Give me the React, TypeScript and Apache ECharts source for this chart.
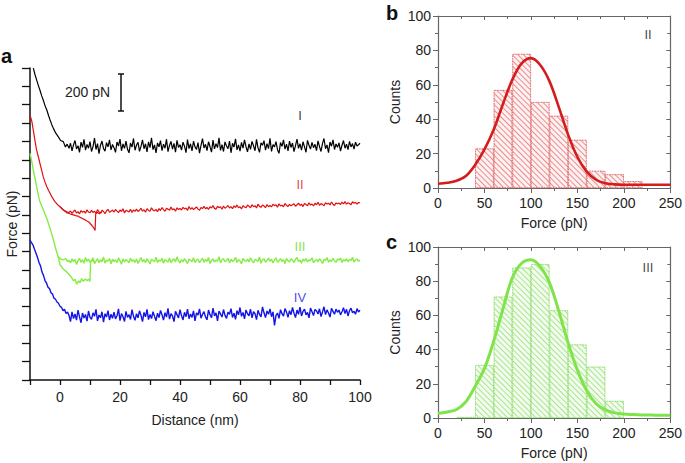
import React, { useEffect, useRef } from "react";
import * as echarts from "echarts";

// ---------- Panel a: force-distance traces (distance nm, force pN offset) ----------
const baselineStart = 3;
const baselineStep = 0.5;

const blackRamp = [[-8.9, 1699], [-8.3, 1662], [-7.8, 1635], [-7.2, 1604], [-6.7, 1580], [-6.1, 1548], [-5.6, 1526], [-5.0, 1495], [-4.4, 1471], [-3.8, 1440], [-3.3, 1417], [-2.7, 1390], [-2.2, 1371], [-1.4, 1345], [-0.6, 1326], [0.2, 1305], [1.1, 1299], [1.8, 1270], [2.4, 1285]];
const blackBaseline = [
  1262,1290,1248,1281,1305,1259,1277,1240,1296,1268,1311,1252,1284,1263,1299,
  1245,1272,1318,1256,1288,1233,1279,1302,1261,1247,1293,1270,1308,1254,1283,
  1266,1240,1297,1275,1313,1249,1286,1262,1301,1257,1238,1291,1269,1316,1252,
  1280,1295,1246,1273,1309,1260,1287,1243,1298,1266,1320,1255,1281,1237,1292,
  1271,1304,1250,1285,1263,1312,1244,1278,1300,1258,1289,1241,1306,1267,1282,
  1253,1296,1274,1239,1310,1261,1287,1248,1301,1270,1256,1293,1236,1279,1315,
  1264,1284,1250,1298,1272,1242,1307,1259,1288,1266,1319,1251,1283,1245,1297,
  1275,1260,1302,1238,1290,1269,1314,1254,1281,1247,1295,1263,1308,1271,1243,
  1286,1257,1300,1276,1249,1311,1265,1240,1292,1279,1304,1252,1288,1261,1317,
  1246,1283,1270,1299,1255,1235,1294,1273,1309,1258,1285,1248,1302,1267,1291,
  1244,1277,1313,1262,1287,1253,1298,1270,1241,1306,1279,1258,1295,1266,1284,
  1250,1303,1272,1245,1289,1316,1260,1281,1239,1297,1274,1308,1256,1286,1268,
  1292,1247,1279,1305,1263,1285,1255,1300,1270,1288,1258,1296,1275,1282,1290,
];

const redRamp = [[-10, 1444], [-9.4, 1410], [-8.9, 1362], [-8.3, 1300], [-7.8, 1253], [-7.2, 1215], [-6.7, 1181], [-6.1, 1142], [-5.6, 1108], [-5.0, 1078], [-4.4, 1053], [-3.8, 1033], [-3.3, 1017], [-2.5, 992], [-1.7, 972], [-0.8, 955], [0, 944], [1.1, 928], [2.2, 917]];
const redRetract = [[0, 944], [1.1, 926], [2.2, 912], [3.2, 906], [4.2, 901], [5.2, 896], [6.0, 893], [6.7, 886], [7.5, 880], [8.2, 874], [9.0, 866], [9.6, 861], [10.2, 850], [10.8, 838], [11.3, 828], [11.7, 815], [11.9, 905], [12.5, 913], [13.2, 906], [14.0, 916]];
const redBaseline = [
  912,921,908,918,926,910,917,905,923,914,920,909,927,915,911,
  924,913,920,907,928,916,911,925,918,906,922,930,914,919,926,
  915,929,920,912,926,918,933,910,924,921,916,930,913,927,919,
  931,918,925,936,920,928,914,933,924,919,938,926,921,930,917,
  934,923,940,928,919,936,931,925,942,927,933,920,938,929,935,
  926,941,932,937,924,945,930,939,928,936,943,931,925,940,934,
  946,933,940,929,944,937,950,935,931,947,939,944,930,948,936,
  942,951,937,945,933,949,940,954,938,944,932,950,943,939,953,
  947,938,955,944,950,937,958,946,941,953,948,939,956,944,951,
  943,958,950,954,941,960,948,952,944,962,951,946,957,949,955,
  960,947,955,964,951,958,945,962,956,950,966,953,959,948,963,
  955,968,952,961,957,949,966,959,963,954,970,958,951,965,960,
  964,956,969,960,972,958,966,962,955,971,963,968,959,967,965,
];

const greenRamp = [[-10, 1235], [-9.4, 1190], [-8.9, 1144], [-8.3, 1098], [-7.8, 1053], [-7.3, 1015], [-6.9, 981], [-6.1, 948], [-5.3, 917], [-4.4, 880], [-3.6, 840], [-2.8, 799], [-2.0, 752], [-1.3, 708], [-0.6, 672], [0.2, 660], [1.1, 654], [2.0, 662], [2.5, 645]];
const greenRetract = [[-0.6, 672], [0, 628], [1, 606], [2, 592], [3, 575], [3.8, 560], [4.5, 540], [5, 549], [5.6, 522], [6.2, 541], [6.7, 530], [7.2, 553], [7.8, 538], [8.4, 551], [9, 541], [9.5, 549], [10, 537], [10.2, 645], [11, 653], [11.8, 640]];
const greenBaseline = [
  652,638,660,645,657,630,649,663,641,655,636,668,646,659,642,
  651,665,634,648,661,639,656,644,670,637,653,647,662,633,658,
  645,654,640,666,649,631,660,643,657,650,638,664,646,655,641,
  659,635,652,667,644,656,639,661,648,632,658,651,645,669,640,
  654,647,663,636,657,650,642,665,638,653,660,644,671,649,637,
  656,643,662,648,634,659,651,645,666,640,655,658,639,652,664,
  641,657,646,668,635,650,660,643,654,647,672,638,655,661,644,
  650,663,637,658,645,652,669,640,656,648,633,662,651,646,659,
  643,666,649,639,657,653,645,670,636,655,660,642,651,664,647,
  658,638,654,665,641,650,661,646,656,634,663,649,644,660,652,
  640,657,668,645,653,636,659,648,662,643,655,651,666,639,650,
  657,644,661,649,635,658,652,667,642,654,646,663,650,641,659,
  653,665,640,656,648,661,644,658,651,669,643,655,660,647,654,
];

const blueRamp = [[-10, 763], [-9.5, 748], [-9, 735], [-8.5, 712], [-8, 690], [-7.5, 668], [-7, 640], [-6.5, 622], [-6, 588], [-5.5, 570], [-5, 542], [-4.5, 528], [-4, 505], [-3.5, 498], [-3, 475], [-2.5, 468], [-2, 446], [-1.5, 440], [-1, 425], [-0.5, 418], [0, 402], [0.5, 396], [1, 378], [1.5, 385], [2, 362], [2.5, 370]];
const blueBaseline = [
  352,318,371,335,360,326,381,344,312,365,338,357,321,376,341,
  330,366,347,385,322,354,339,372,315,361,343,378,327,358,336,
  369,333,350,388,324,362,345,319,374,341,356,330,383,347,325,
  361,339,377,352,318,368,344,385,329,357,335,372,347,323,364,
  340,379,355,326,367,343,390,332,361,349,318,374,356,338,383,
  351,327,369,345,386,334,360,341,377,322,366,353,388,337,358,
  372,344,328,381,356,339,392,349,366,322,375,360,343,384,352,
  336,370,358,389,341,364,330,378,355,395,347,368,333,382,361,
  350,386,339,372,362,329,380,357,344,398,366,340,376,358,387,
  345,371,298,352,365,336,383,361,348,389,370,342,378,356,395,
  364,340,381,358,397,349,374,386,355,368,339,392,372,351,384,
  377,360,388,346,371,399,356,382,365,343,390,374,358,386,369,
  381,355,372,394,362,385,349,378,391,366,374,358,389,371,380,
];

const traceLabels = ["I", "II", "III", "IV"];
const traceLabelPos = [[80, 1440], [80, 1063], [80, 726], [80, 447]];
const traceColors = ["#000000", "#e01010", "#86ec44", "#1414e6"];
const traceLabelColors = ["#000000", "#e01010", "#66dd22", "#1414e6"];

// ---------- Panels b & c: rupture force histograms ----------
const binCentersII = [50, 70, 90, 110, 130, 150, 170, 190, 210];
const countsII = [23, 57, 78, 50, 42, 28, 10, 8, 4];
const binCentersIII = [30, 50, 70, 90, 110, 130, 150, 170, 190];
const countsIII = [0.6, 31, 71, 88, 90, 63, 43, 30, 10];

const fitForce = [0, 10, 20, 30, 40, 50, 60, 70, 80, 90, 100, 110, 120, 130, 140, 150, 160, 170, 180, 190, 200, 210, 220, 230, 240, 250];
const fitII = [2.5, 3, 4.2, 7, 13.5, 22.5, 34, 49, 63, 72.5, 75.5, 71.5, 62, 47, 31, 18, 9.5, 4.8, 2.8, 2.1, 1.9, 1.9, 1.9, 1.9, 1.9, 1.9];
const fitIII = [2.7, 3.5, 5, 9.5, 18.5, 29, 45, 64, 82, 90.5, 92.5, 88.5, 79, 62.5, 44, 28, 16, 8.5, 4.8, 3, 2.3, 2, 1.8, 1.7, 1.6, 1.6];

const FONT = "Liberation Sans, Arial, Helvetica, sans-serif";

function withGrid(values: number[]) {
  return values.map((v, i) => [baselineStart + i * baselineStep, v]);
}

function histAxes(gi: number, xName: string) {
  const axisCol = "#666";
  const lbl = { color: "#222", fontSize: 14, fontFamily: FONT };
  const xs = [
    {
      type: "value", gridIndex: gi, min: 0, max: 250, interval: 50,
      axisLine: { onZero: false, lineStyle: { color: axisCol, width: 1.2 } },
      axisTick: { length: 5, lineStyle: { color: axisCol } },
      minorTick: { show: true, splitNumber: 2, length: 3, lineStyle: { color: axisCol } },
      axisLabel: { ...lbl, margin: 8 }, splitLine: { show: false },
      name: xName, nameLocation: "middle", nameGap: 28,
      nameTextStyle: { ...lbl },
    },
    {
      type: "value", gridIndex: gi, position: "top", min: 0, max: 250, interval: 50,
      axisLine: { onZero: false, lineStyle: { color: axisCol, width: 1.2 } },
      axisTick: { inside: true, length: 4, lineStyle: { color: axisCol } },
      minorTick: { show: true, splitNumber: 2, length: 3, lineStyle: { color: axisCol } },
      axisLabel: { show: false }, splitLine: { show: false },
    },
  ];
  const ys = [
    {
      type: "value", gridIndex: gi, min: 0, max: 100, interval: 20,
      axisLine: { show: true, onZero: false, lineStyle: { color: axisCol, width: 1.2 } },
      axisTick: { show: true, length: 5, lineStyle: { color: axisCol } },
      minorTick: { show: true, splitNumber: 2, length: 3, lineStyle: { color: axisCol } },
      axisLabel: { ...lbl, margin: 7 }, splitLine: { show: false },
      name: "Counts", nameLocation: "middle", nameGap: 36,
      nameTextStyle: { ...lbl },
    },
    {
      type: "value", gridIndex: gi, position: "right", min: 0, max: 100, interval: 20,
      axisLine: { show: true, onZero: false, lineStyle: { color: axisCol, width: 1.2 } },
      axisTick: { show: true, inside: true, length: 4, lineStyle: { color: axisCol } },
      minorTick: { show: true, splitNumber: 2, length: 3, lineStyle: { color: axisCol } },
      axisLabel: { show: false }, splitLine: { show: false },
    },
  ];
  return { xs, ys };
}

function textSeries(xi: number, yi: number, pos: number[], text: string, color: string) {
  return {
    type: "scatter", xAxisIndex: xi, yAxisIndex: yi, symbol: "circle", symbolSize: 1,
    silent: true,
    itemStyle: { color: "rgba(255,255,255,0)" },
    label: {
      show: true, position: "inside", formatter: text,
      color, fontSize: 13, fontFamily: FONT,
      textBorderColor: "transparent", textBorderWidth: 0,
    },
    data: [pos],
    z: 6,
  };
}

export default function App() {
  const ref = useRef<HTMLDivElement>(null);
  useEffect(() => {
    if (!ref.current) return;
    const chart = echarts.init(ref.current, null, { renderer: "svg" });
    const b = histAxes(1, "Force (pN)");
    const c = histAxes(2, "Force (pN)");

    const traceLine = (name: string, data: number[][], color: string, width = 1.2) => ({
      name, type: "line", xAxisIndex: 0, yAxisIndex: 0, data,
      showSymbol: false, symbol: "none", smooth: false,
      lineStyle: { color, width }, z: 3,
    });

    const histBar = (cx: number[], counts: number[], xi: number, yi: number, fill: string, hatch: string, border: string) => ({
      type: "bar", xAxisIndex: xi, yAxisIndex: yi,
      data: cx.map((x, i) => [x, counts[i]]),
      barWidth: 18.7, barGap: "-100%",
      itemStyle: {
        color: fill,
        borderColor: border, borderWidth: 0.8, borderType: "dotted",
        decal: {
          symbol: "rect", symbolSize: 1, color: hatch,
          dashArrayX: [1, 0], dashArrayY: [1, 2.5], rotation: Math.PI / 4,
        },
      },
      z: 2,
    });

    const option: any = {
      animation: false,
      backgroundColor: "#ffffff",
      grid: [
        { left: 30, top: 68, width: 330, height: 312 },
        { left: 438, top: 16, width: 234, height: 172 },
        { left: 438, top: 247, width: 234, height: 171 },
      ],
      xAxis: [
        {
          type: "value", gridIndex: 0, min: -10, max: 100, interval: 10,
          axisLine: { onZero: false, lineStyle: { color: "#111", width: 1.5 } },
          axisTick: { length: 5, lineStyle: { color: "#111", width: 1.3 } },
          axisLabel: {
            color: "#222", fontSize: 14, fontFamily: FONT, margin: 10,
            formatter: (v: number) => (v >= 0 && v % 20 === 0 ? String(v) : ""),
          },
          splitLine: { show: false },
          name: "Distance (nm)", nameLocation: "middle", nameGap: 33,
          nameTextStyle: { color: "#222", fontSize: 14, fontFamily: FONT },
        },
        ...b.xs,
        ...c.xs,
      ],
      yAxis: [
        {
          type: "value", gridIndex: 0, min: 0, max: 1700, interval: 100,
          axisLine: { show: true, onZero: false, lineStyle: { color: "#111", width: 1.5 } },
          axisTick: { show: true, length: 8, lineStyle: { color: "#111", width: 1.3 } },
          axisLabel: { show: false }, splitLine: { show: false },
          name: "Force (pN)", nameLocation: "middle", nameGap: 11,
          nameTextStyle: { color: "#222", fontSize: 14, fontFamily: FONT },
        },
        ...b.ys,
        ...c.ys,
      ],
      series: [
        traceLine("I", [...blackRamp, ...withGrid(blackBaseline)], traceColors[0]),
        traceLine("II", [...redRamp, ...withGrid(redBaseline)], traceColors[1]),
        traceLine("II retract", redRetract, traceColors[1]),
        traceLine("III", [...greenRamp, ...withGrid(greenBaseline)], traceColors[2], 1.4),
        traceLine("III retract", greenRetract, traceColors[2], 1.4),
        traceLine("IV", [...blueRamp, ...withGrid(blueBaseline)], traceColors[3], 1.4),
        ...traceLabelPos.map((p, i) => textSeries(0, 0, p, traceLabels[i], traceLabelColors[i])),
        histBar(binCentersII, countsII, 1, 1, "#fdf1f1", "rgba(220,60,60,0.55)", "#e06a6a"),
        {
          type: "line", xAxisIndex: 1, yAxisIndex: 1, smooth: 0.35, symbol: "none",
          data: fitForce.map((x, i) => [x, fitII[i]]),
          lineStyle: { color: "#d41c1c", width: 2.6 }, z: 4,
        },
        histBar(binCentersIII, countsIII, 3, 3, "#f3fcee", "rgba(120,215,80,0.6)", "#8fdc6c"),
        {
          type: "line", xAxisIndex: 3, yAxisIndex: 3, smooth: 0.35, symbol: "none",
          data: fitForce.map((x, i) => [x, fitIII[i]]),
          lineStyle: { color: "#7fe44a", width: 3 }, z: 4,
        },
        textSeries(1, 1, [226, 89], "II", "#111"),
        textSeries(3, 3, [226, 88], "III", "#111"),
      ],
      graphic: [
        { type: "text", left: 1, top: 46, style: { text: "a", fontSize: 20, fontWeight: "bold", fontFamily: FONT, fill: "#111" } },
        { type: "text", left: 386, top: 3, style: { text: "b", fontSize: 20, fontWeight: "bold", fontFamily: FONT, fill: "#111" } },
        { type: "text", left: 386, top: 232, style: { text: "c", fontSize: 20, fontWeight: "bold", fontFamily: FONT, fill: "#111" } },
        { type: "text", left: 65, top: 85, style: { text: "200 pN", fontSize: 14, fontFamily: FONT, fill: "#222" } },
        { type: "line", shape: { x1: 121, y1: 74, x2: 121, y2: 111 }, style: { stroke: "#111", lineWidth: 1.5 } },
        { type: "line", shape: { x1: 118, y1: 74, x2: 124, y2: 74 }, style: { stroke: "#111", lineWidth: 1.5 } },
        { type: "line", shape: { x1: 118, y1: 111, x2: 124, y2: 111 }, style: { stroke: "#111", lineWidth: 1.5 } },
      ],
    };
    chart.setOption(option);
    return () => chart.dispose();
  }, []);
  return <div ref={ref} style={{ position: "absolute", left: 0, top: 0, width: 685, height: 463 }} />;
}
